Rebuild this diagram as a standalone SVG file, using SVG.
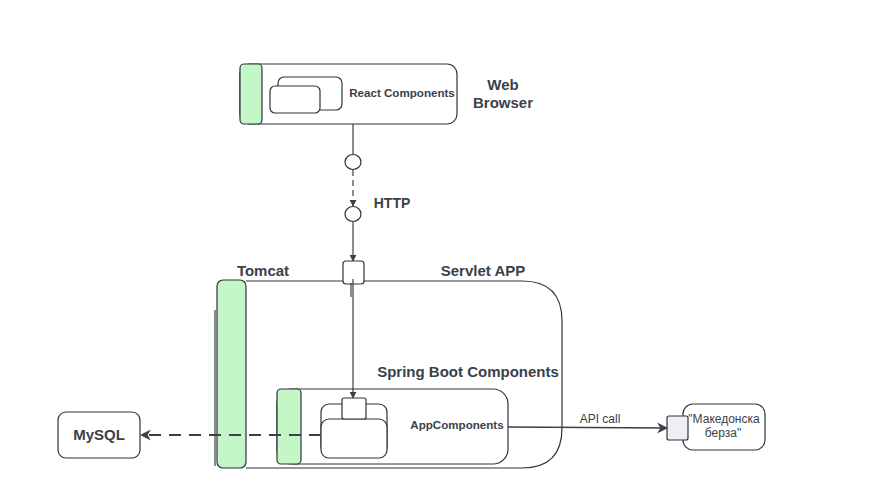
<svg xmlns="http://www.w3.org/2000/svg" width="878" height="497" viewBox="0 0 878 497">
<defs>
<style>
.box{fill:#ffffff;stroke:#2f3338;stroke-width:1.2}
.green{fill:#c3f7c8;stroke:#2f3338;stroke-width:1.2}
.port{fill:#ffffff;stroke:#2f3338;stroke-width:1.2}
.line{fill:none;stroke:#3a414a;stroke-width:1.2}
.t{font-family:"Liberation Sans",Arial,sans-serif;fill:#3a414a}
.b{font-weight:bold}
</style>
<marker id="arr" viewBox="0 0 10 10" refX="9" refY="5" markerWidth="7" markerHeight="7" orient="auto" markerUnits="userSpaceOnUse">
<path d="M0,0 L10,5 L0,10 z" fill="#3a414a"/>
</marker>
<marker id="arrL" viewBox="0 0 10 10" refX="9" refY="5" markerWidth="11" markerHeight="11" orient="auto" markerUnits="userSpaceOnUse">
<path d="M0,0 L10,5 L0,10 L3,5 z" fill="#3a414a"/>
</marker>
</defs>
<rect width="878" height="497" fill="#ffffff"/>

<g id="web-browser">
<rect class="box" x="240" y="64" width="217" height="60" rx="10"/>
<rect class="green" x="240" y="64" width="22" height="60" rx="4"/>
<rect class="box" x="278" y="77" width="64" height="33" rx="6"/>
<rect class="box" x="270" y="86" width="50" height="27" rx="5"/>
<text class="t b" x="402" y="97" font-size="11.6" text-anchor="middle">React Components</text>
<text class="t b" x="503" y="90" font-size="15" text-anchor="middle">Web</text>
<text class="t b" x="503" y="108" font-size="15" text-anchor="middle">Browser</text>
</g>

<g id="servlet-app">
<path class="box" d="M246,281 L522,281 Q562,281 562,321 L562,428 Q562,468 522,468 L246,468"/>
<line class="line" x1="215" y1="310" x2="215" y2="466"/>
<rect class="green" x="217" y="280" width="29" height="188" rx="6"/>
<text class="t b" x="263" y="276" font-size="15" text-anchor="middle">Tomcat</text>
<text class="t b" x="483" y="276" font-size="15" text-anchor="middle">Servlet APP</text>
</g>

<g id="spring-boot">
<rect class="box" x="277" y="389" width="231" height="75" rx="15"/>
<rect class="green" x="277" y="389" width="24" height="75" rx="4"/>
<text class="t b" x="468" y="377" font-size="15" text-anchor="middle">Spring Boot Components</text>
</g>

<g id="app-components">
<rect class="box" x="321" y="404" width="66" height="50" rx="8"/>
<rect class="box" x="321" y="419" width="66" height="39" rx="8"/>
<rect class="box" x="342" y="398" width="24" height="21" rx="2"/>
<text class="t b" x="457" y="429" font-size="11.6" text-anchor="middle">AppComponents</text>
</g>

<g id="mysql">
<rect class="box" x="58" y="412" width="82" height="46" rx="8"/>
<text class="t b" x="99" y="440" font-size="15" text-anchor="middle">MySQL</text>
</g>

<g id="makedonska-berza">
<rect class="box" x="683" y="404" width="82" height="46" rx="10"/>
<text class="t" x="724" y="423" font-size="12" text-anchor="middle">"Македонска</text>
<text class="t" x="723" y="437" font-size="12" text-anchor="middle">берза"</text>
<rect x="667" y="416" width="21" height="24" rx="2" fill="#eeeff2" stroke="#2f3338" stroke-width="1.2"/>
</g>

<g id="connectors">
<line class="line" x1="353" y1="124" x2="353" y2="154"/>
<ellipse class="port" cx="353" cy="162" rx="8" ry="7.5"/>
<line class="line" x1="353" y1="170" x2="353" y2="206" stroke-dasharray="6 4" marker-end="url(#arr)"/>
<ellipse class="port" cx="353" cy="214" rx="8" ry="7.5"/>
<text class="t b" x="392" y="208" font-size="14" text-anchor="middle">HTTP</text>
<line class="line" x1="353" y1="222" x2="353" y2="261" marker-end="url(#arr)"/>
<rect class="port" x="343" y="261" width="21" height="23" rx="3"/>
<line class="line" x1="351" y1="283" x2="351" y2="297"/>
<line class="line" x1="353" y1="279" x2="353" y2="398" marker-end="url(#arr)"/>
<line x1="321" y1="435" x2="141" y2="435" stroke="#3a414a" stroke-width="2" stroke-dasharray="12 8" marker-end="url(#arrL)"/>
<line x1="508" y1="427" x2="667" y2="428" stroke="#3a414a" stroke-width="1.6" marker-end="url(#arrL)"/>
<text class="t" x="600" y="423" font-size="12" text-anchor="middle">API call</text>
</g>
</svg>
